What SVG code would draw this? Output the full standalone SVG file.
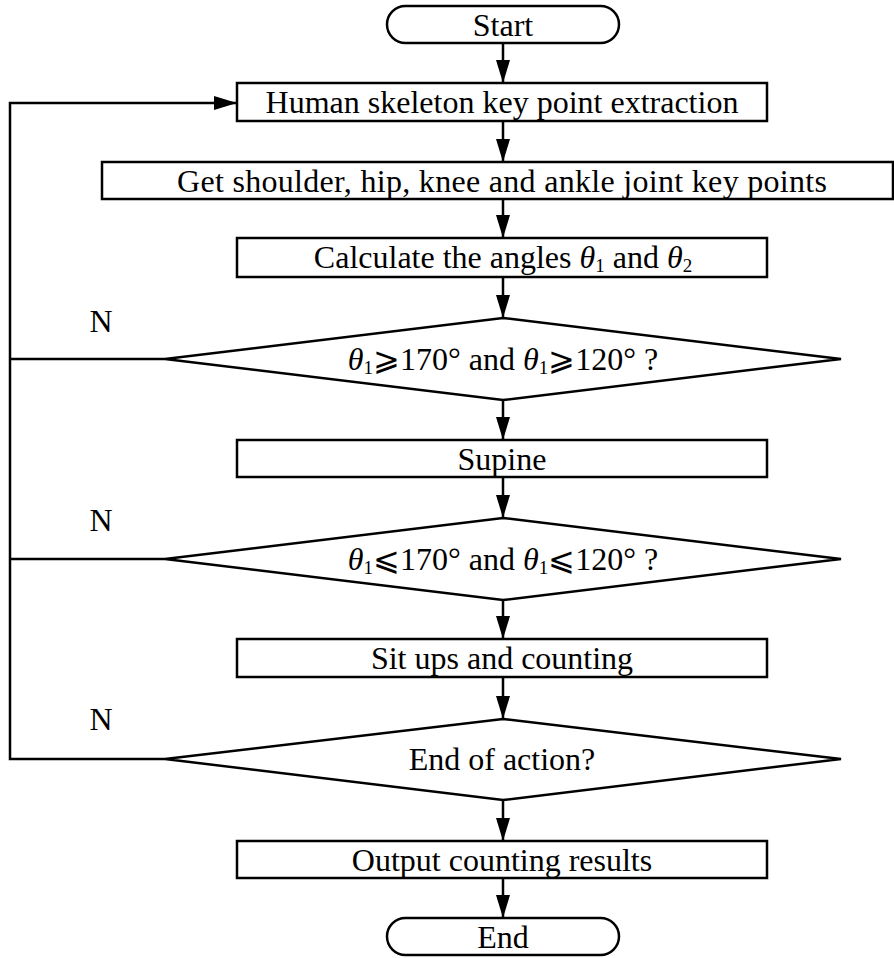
<svg xmlns="http://www.w3.org/2000/svg" width="894" height="958" viewBox="0 0 894 958" font-family="'Liberation Serif', 'Times New Roman', 'DejaVu Serif', serif">
<style>
.s{fill:#fff;stroke:#000;stroke-width:2.5}
.t{font-family:'Liberation Serif','Times New Roman','DejaVu Serif',serif;font-size:32px;fill:#000;text-anchor:middle}
.i{font-style:italic}
.sub{font-size:19px}
.c{fill:none;stroke:#000;stroke-width:2.5}
</style>
<defs>
<marker id="ad" viewBox="0 0 23 14" refX="23" refY="7" markerWidth="23" markerHeight="14" orient="auto" markerUnits="userSpaceOnUse"><path d="M0,0 L23,7 L0,14 Z" fill="#000"/></marker>
</defs>
<g id="connectors">
<line class="c" x1="503" y1="43" x2="503" y2="83" marker-end="url(#ad)"/>
<line class="c" x1="503" y1="121" x2="503" y2="162" marker-end="url(#ad)"/>
<line class="c" x1="503" y1="199" x2="503" y2="238" marker-end="url(#ad)"/>
<line class="c" x1="503" y1="277" x2="503" y2="318" marker-end="url(#ad)"/>
<line class="c" x1="503" y1="400" x2="503" y2="440" marker-end="url(#ad)"/>
<line class="c" x1="503" y1="477" x2="503" y2="518" marker-end="url(#ad)"/>
<line class="c" x1="503" y1="600" x2="503" y2="639" marker-end="url(#ad)"/>
<line class="c" x1="503" y1="677" x2="503" y2="719" marker-end="url(#ad)"/>
<line class="c" x1="503" y1="800" x2="503" y2="841" marker-end="url(#ad)"/>
<line class="c" x1="503" y1="878" x2="503" y2="918" marker-end="url(#ad)"/>
<polyline class="c" points="165,759 10,759 10,103 237,103" marker-end="url(#ad)"/>
<line class="c" x1="165" y1="359" x2="10" y2="359"/>
<line class="c" x1="165" y1="559" x2="10" y2="559"/>
<text class="t" x="101" y="332">N</text>
<text class="t" x="101" y="531">N</text>
<text class="t" x="101" y="730">N</text>
</g>
<g id="start">
<rect class="s" x="387" y="6" width="232" height="37" rx="18.5"/>
<text class="t" x="503" y="36">Start</text>
</g>
<g id="extract">
<rect class="s" x="237" y="83" width="530" height="38"/>
<text class="t" x="502" y="113">Human skeleton key point extraction</text>
</g>
<g id="getpoints">
<rect class="s" x="102" y="162" width="791" height="37"/>
<text class="t" x="502" y="192" textLength="650" lengthAdjust="spacing">Get shoulder, hip, knee and ankle joint key points</text>
</g>
<g id="calc">
<rect class="s" x="237" y="238" width="530" height="39"/>
<text class="t" x="503" y="268">Calculate the angles <tspan class="i">θ</tspan><tspan class="sub" dy="4">1</tspan><tspan dy="-4"> and </tspan><tspan class="i">θ</tspan><tspan class="sub" dy="4">2</tspan></text>
</g>
<g id="dec1">
<polygon class="s" points="503,318 841,359 503,400 165,359"/>
<text class="t" x="503" y="370"><tspan class="i">θ</tspan><tspan class="sub" dy="4">1</tspan><tspan dy="-4">⩾170° and </tspan><tspan class="i">θ</tspan><tspan class="sub" dy="4">1</tspan><tspan dy="-4">⩾120° ?</tspan></text>
</g>
<g id="supine">
<rect class="s" x="237" y="440" width="530" height="37"/>
<text class="t" x="502" y="470">Supine</text>
</g>
<g id="dec2">
<polygon class="s" points="503,518 841,559 503,600 165,559"/>
<text class="t" x="503" y="570"><tspan class="i">θ</tspan><tspan class="sub" dy="4">1</tspan><tspan dy="-4">⩽170° and </tspan><tspan class="i">θ</tspan><tspan class="sub" dy="4">1</tspan><tspan dy="-4">⩽120° ?</tspan></text>
</g>
<g id="situps">
<rect class="s" x="237" y="639" width="530" height="38"/>
<text class="t" x="502" y="669">Sit ups and counting</text>
</g>
<g id="dec3">
<polygon class="s" points="503,719 841,759 503,800 165,759"/>
<text class="t" x="502" y="770">End of action?</text>
</g>
<g id="output">
<rect class="s" x="237" y="841" width="530" height="37"/>
<text class="t" x="502" y="871">Output counting results</text>
</g>
<g id="end">
<rect class="s" x="387" y="918" width="232" height="37" rx="18.5"/>
<text class="t" x="503" y="948">End</text>
</g>
</svg>
